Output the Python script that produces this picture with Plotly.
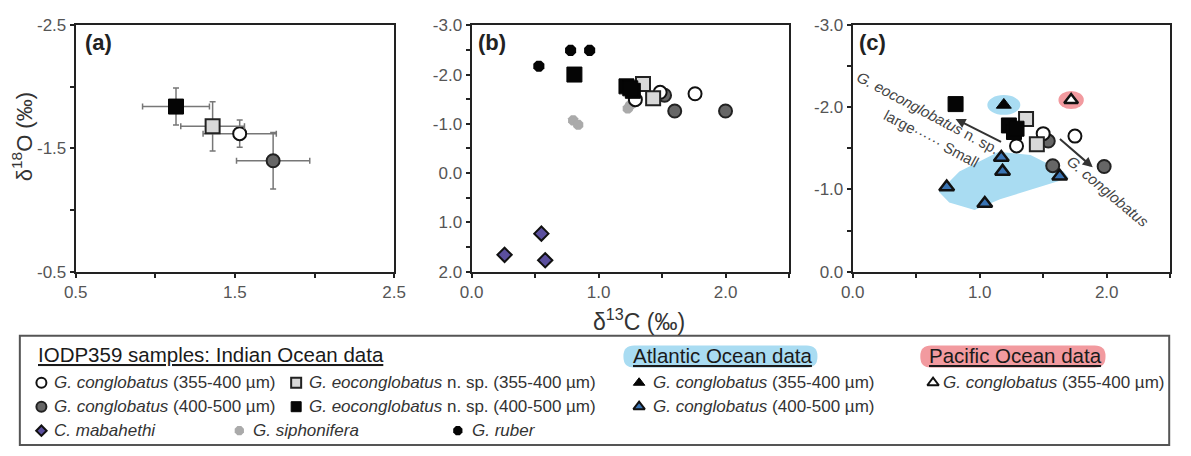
import plotly.graph_objects as go

W, H = 1191, 456
FONT = "Liberation Sans, Arial, sans-serif"

# ---------------- data ----------------
# Panel (a): mean values with error bars
a_series = ["cong_355", "cong_400", "eo_355", "eo_400"]
a_d13C = [1.53, 1.74, 1.36, 1.13]
a_d18O = [-1.62, -1.40, -1.68, -1.84]
a_d13C_err = [0.23, 0.23, 0.20, 0.21]
a_d18O_err = [0.11, 0.23, 0.20, 0.15]

# Panel (b)
b_cong355_x = [1.29, 1.485, 1.76]
b_cong355_y = [-1.49, -1.64, -1.61]
b_cong400_x = [1.52, 1.60, 2.00]
b_cong400_y = [-1.58, -1.26, -1.26]
b_eo355_x = [1.35, 1.43]
b_eo355_y = [-1.81, -1.52]
b_eo400_x = [0.81, 1.22, 1.27, 1.25]
b_eo400_y = [-2.00, -1.76, -1.67, -1.72]
b_siph_x = [0.80, 0.84, 1.23, 1.25]
b_siph_y = [-1.07, -0.98, -1.31, -1.38]
b_ruber_x = [0.53, 0.78, 0.93]
b_ruber_y = [-2.17, -2.49, -2.49]
b_mab_x = [0.26, 0.55, 0.58]
b_mab_y = [1.66, 1.23, 1.77]

# Panel (c)
c_cong355_x = [1.29, 1.50, 1.75]
c_cong355_y = [-1.53, -1.68, -1.65]
c_cong400_x = [1.54, 1.575, 1.98]
c_cong400_y = [-1.59, -1.29, -1.28]
c_eo355_x = [1.365, 1.45]
c_eo355_y = [-1.86, -1.55]
c_eo400_x = [0.81, 1.23, 1.27, 1.29]
c_eo400_y = [-2.04, -1.78, -1.70, -1.74]
c_atl355_x = [1.19]
c_atl355_y = [-2.03]
c_atl400_x = [1.17, 1.18, 0.74, 1.04, 1.63]
c_atl400_y = [-1.39, -1.22, -1.03, -0.83, -1.16]
c_pac355_x = [1.72]
c_pac355_y = [-2.09]
c_atl_hull_x = [0.68, 0.84, 1.15, 1.40, 1.66, 1.70, 1.16, 0.96, 0.76, 0.68]
c_atl_hull_y = [-0.97, -1.22, -1.46, -1.42, -1.22, -1.14, -0.88, -0.75, -0.84, -0.97]

# ---------------- styles ----------------
ST = {
    "cong_355": dict(symbol="circle", color="white", line=dict(color="#111", width=2), size=13),
    "cong_400": dict(symbol="circle", color="#666666", line=dict(color="#222", width=2), size=13),
    "eo_355": dict(symbol="square", color="#d8d8d8", line=dict(color="#222", width=2), size=14),
    "eo_400": dict(symbol="square", color="#050505", line=dict(color="#050505", width=1), size=15),
    "siph": dict(symbol="octagon", color="#aaaaaa", line=dict(color="#aaaaaa", width=0), size=11),
    "ruber": dict(symbol="octagon", color="#050505", line=dict(color="#050505", width=0), size=12),
    "mab": dict(symbol="diamond", color="#5b4f9e", line=dict(color="#111", width=2), size=11),
    "atl355": dict(symbol="triangle-up", color="#050505", line=dict(color="#050505", width=1), size=13),
    "atl400": dict(symbol="triangle-up", color="#3a74b4", line=dict(color="#111", width=2.5), size=13),
    "pac355": dict(symbol="triangle-up", color="white", line=dict(color="#111", width=2.5), size=12),
}

fig = go.Figure()

# panel a
for i, s in enumerate(a_series):
    fig.add_trace(go.Scatter(
        x=[a_d13C[i]], y=[a_d18O[i]], mode="markers", xaxis="x", yaxis="y",
        marker=ST[s], showlegend=False,
        error_x=dict(type="data", array=[a_d13C_err[i]], color="#777", thickness=1.5, width=3),
        error_y=dict(type="data", array=[a_d18O_err[i]], color="#777", thickness=1.5, width=3),
    ))

def pts(x, y, key, xa, ya):
    fig.add_trace(go.Scatter(x=x, y=y, mode="markers", xaxis=xa, yaxis=ya,
                             marker=ST[key], showlegend=False))

# panel b
pts(b_mab_x, b_mab_y, "mab", "x2", "y2")
pts(b_siph_x, b_siph_y, "siph", "x2", "y2")
pts(b_ruber_x, b_ruber_y, "ruber", "x2", "y2")
pts(b_cong400_x, b_cong400_y, "cong_400", "x2", "y2")
pts(b_cong355_x, b_cong355_y, "cong_355", "x2", "y2")
pts(b_eo355_x, b_eo355_y, "eo_355", "x2", "y2")
pts(b_eo400_x, b_eo400_y, "eo_400", "x2", "y2")

# panel c
fig.add_trace(go.Scatter(x=c_atl_hull_x, y=c_atl_hull_y, mode="lines", fill="toself",
                         fillcolor="#a9dcf2", line=dict(width=0, color="#a9dcf2"),
                         xaxis="x3", yaxis="y3", showlegend=False, hoverinfo="skip"))
pts(c_cong400_x, c_cong400_y, "cong_400", "x3", "y3")
pts(c_cong355_x, c_cong355_y, "cong_355", "x3", "y3")
pts(c_eo355_x, c_eo355_y, "eo_355", "x3", "y3")
pts(c_eo400_x, c_eo400_y, "eo_400", "x3", "y3")
pts(c_atl400_x, c_atl400_y, "atl400", "x3", "y3")
pts(c_atl355_x, c_atl355_y, "atl355", "x3", "y3")
pts(c_pac355_x, c_pac355_y, "pac355", "x3", "y3")

# highlight ellipses behind the single triangles (panel c)
fig.add_shape(type="circle", xref="x3", yref="y3", layer="below",
              x0=c_atl355_x[0] - 0.13, x1=c_atl355_x[0] + 0.13,
              y0=c_atl355_y[0] - 0.12, y1=c_atl355_y[0] + 0.12,
              fillcolor="#a9dcf2", line=dict(width=0))
fig.add_shape(type="circle", xref="x3", yref="y3", layer="below",
              x0=c_pac355_x[0] - 0.10, x1=c_pac355_x[0] + 0.10,
              y0=c_pac355_y[0] - 0.11, y1=c_pac355_y[0] + 0.11,
              fillcolor="#f29a9f", line=dict(width=0))

# ---------------- axes ----------------
def px(x):
    return x / W

def py(y):
    return 1 - y / H

ydom = [py(274), py(17)]
common = dict(showline=True, linecolor="#222", linewidth=2, mirror=True, ticks="outside",
              ticklen=4, tickwidth=1.5, tickcolor="#222", showgrid=False, zeroline=False,
              tickfont=dict(family=FONT, size=17, color="#555"))

fig.update_layout(
    xaxis=dict(domain=[px(65), px(390)], range=[0.5, 2.5], anchor="y",
               tickvals=[0.5, 1.0, 1.5, 2.0, 2.5], ticktext=["0.5", "", "1.5", "", "2.5"], **common),
    yaxis=dict(domain=ydom, range=[-0.5, -2.5], anchor="x",
               tickvals=[-2.5, -2.0, -1.5, -1.0, -0.5], ticktext=["-2.5", "", "-1.5", "", "-0.5"], **common),
    xaxis2=dict(domain=[px(469), px(793)], range=[0, 2.5], anchor="y2",
                tickvals=[0, 0.5, 1.0, 1.5, 2.0, 2.5], ticktext=["0.0", "", "1.0", "", "2.0", ""], **common),
    yaxis2=dict(domain=ydom, range=[2.0, -3.0], anchor="x2",
                tickvals=[-3, -2.5, -2, -1.5, -1, -0.5, 0, 0.5, 1, 1.5, 2],
                ticktext=["-3.0", "", "-2.0", "", "-1.0", "", "0.0", "", "1.0", "", "2.0"], **common),
    xaxis3=dict(domain=[px(858), px(1182)], range=[0, 2.5], anchor="y3",
                tickvals=[0, 0.5, 1.0, 1.5, 2.0, 2.5], ticktext=["0.0", "", "1.0", "", "2.0", ""], **common),
    yaxis3=dict(domain=ydom, range=[0.0, -3.0], anchor="x3",
                tickvals=[-3, -2.5, -2, -1.5, -1, -0.5, 0],
                ticktext=["-3.0", "", "-2.0", "", "-1.0", "", "0.0"], **common),
    xaxis4=dict(domain=[0, 1], range=[0, W], visible=False, anchor="y4", fixedrange=True),
    yaxis4=dict(domain=[0, 1], range=[H, 0], visible=False, anchor="x4", fixedrange=True),
    width=W, height=H, margin=dict(l=0, r=0, t=0, b=0),
    paper_bgcolor="white", plot_bgcolor="rgba(0,0,0,0)", showlegend=False,
    font=dict(family=FONT),
)

ann = []
# panel labels
for lab, x in [("(a)", 72), ("(b)", 474), ("(c)", 862)]:
    ann.append(dict(text=f"<b>{lab}</b>", x=px(x), y=py(35), xref="paper", yref="paper",
                    xanchor="left", yanchor="middle", showarrow=False,
                    font=dict(family=FONT, size=22, color="#222")))
# axis titles
ann.append(dict(text="δ<sup>13</sup>C (‰)", x=px(640), y=py(324), xref="paper", yref="paper",
                xanchor="center", yanchor="middle", showarrow=False,
                font=dict(family=FONT, size=23, color="#333")))
ann.append(dict(text="δ<sup>18</sup>O (‰)", x=px(11), y=py(133), xref="paper", yref="paper",
                xanchor="center", yanchor="middle", showarrow=False, textangle=-90,
                font=dict(family=FONT, size=22, color="#333")))

# panel c arrows and labels
ann.append(dict(x=0.81, y=-1.86, ax=1.18, ay=-1.57, xref="x3", yref="y3", axref="x3", ayref="y3",
                showarrow=True, arrowhead=2, arrowsize=1, arrowwidth=2, arrowcolor="#333", text=""))
ann.append(dict(x=1.89, y=-1.27, ax=1.62, ay=-1.63, xref="x3", yref="y3", axref="x3", ayref="y3",
                showarrow=True, arrowhead=2, arrowsize=1, arrowwidth=2, arrowcolor="#333", text=""))
ann.append(dict(text="<i>G. eoconglobatus</i> n. sp.", x=0.59, y=-1.94, xref="x3", yref="y3",
                showarrow=False, textangle=28, font=dict(family=FONT, size=15, color="#444")))
ann.append(dict(text="large······ Small", x=0.62, y=-1.62, xref="x3", yref="y3",
                showarrow=False, textangle=28, font=dict(family=FONT, size=15, color="#444")))
ann.append(dict(text="<i>G. conglobatus</i>", x=2.01, y=-0.97, xref="x3", yref="y3",
                showarrow=False, textangle=40, font=dict(family=FONT, size=15, color="#444")))

# ---------------- legend box ----------------
fig.add_shape(type="rect", xref="paper", yref="paper", x0=px(8), x1=px(1181), y0=py(455), y1=py(341),
              line=dict(color="#555", width=2), fillcolor="rgba(0,0,0,0)")


def pill(x0, x1, y0, y1, r):
    return (f"M{x0 + r},{y0} L{x1 - r},{y0} Q{x1},{y0} {x1},{y0 + r} L{x1},{y1 - r} "
            f"Q{x1},{y1} {x1 - r},{y1} L{x0 + r},{y1} Q{x0},{y1} {x0},{y1 - r} "
            f"L{x0},{y0 + r} Q{x0},{y0} {x0 + r},{y0} Z")


fig.add_shape(type="path", xref="x4", yref="y4", path=pill(624, 822, 351, 374, 11),
              fillcolor="#a9dcf2", line=dict(width=0), layer="below")
fig.add_shape(type="path", xref="x4", yref="y4", path=pill(927, 1116, 351, 374, 11),
              fillcolor="#f29a9f", line=dict(width=0), layer="below")

LF = dict(family=FONT, size=17, color="#333")
HF = dict(family=FONT, size=20.5, color="#1a1a1a")
ann.append(dict(text="<u>IODP359 samples: Indian Ocean data</u>", x=24, y=361, xref="x4", yref="y4",
                xanchor="left", yanchor="middle", showarrow=False, font=HF))
ann.append(dict(text="<u>Atlantic Ocean data</u>", x=632, y=362, xref="x4", yref="y4",
                xanchor="left", yanchor="middle", showarrow=False, font=HF))
ann.append(dict(text="<u>Pacific Ocean data</u>", x=934, y=362, xref="x4", yref="y4",
                xanchor="left", yanchor="middle", showarrow=False, font=HF))

legend_items = [
    ("cong_355", 30, 390, 11, "<i>G. conglobatus</i> (355-400 µm)"),
    ("eo_355", 290, 390, 11, "<i>G. eoconglobatus</i> n. sp. (355-400 µm)"),
    ("cong_400", 30, 415, 11, "<i>G. conglobatus</i> (400-500 µm)"),
    ("eo_400", 290, 415, 11, "<i>G. eoconglobatus</i> n. sp. (400-500 µm)"),
    ("mab", 30, 440, 11, "<i>C. mabahethi</i>"),
    ("siph", 232, 440, 12, "<i>G. siphonifera</i>"),
    ("ruber", 455, 440, 12, "<i>G. ruber</i>"),
    ("atl355", 640, 390, 12, "<i>G. conglobatus</i> (355-400 µm)"),
    ("atl400", 640, 415, 12, "<i>G. conglobatus</i> (400-500 µm)"),
    ("pac355", 940, 390, 8, "<i>G. conglobatus</i> (355-400 µm)"),
]
for key, x, y, gap, txt in legend_items:
    m = dict(ST[key])
    m["size"] = 10 if key not in ("mab",) else 8
    if "line" in m:
        m["line"] = dict(color=m["line"]["color"], width=min(m["line"]["width"], 2))
    fig.add_trace(go.Scatter(x=[x], y=[y], mode="markers", xaxis="x4", yaxis="y4",
                             marker=m, showlegend=False, hoverinfo="skip"))
    ann.append(dict(text=txt, x=x + gap, y=y, xref="x4", yref="y4", xanchor="left", yanchor="middle",
                    showarrow=False, font=LF))

fig.update_layout(annotations=ann)
fig.write_html("out.html")
